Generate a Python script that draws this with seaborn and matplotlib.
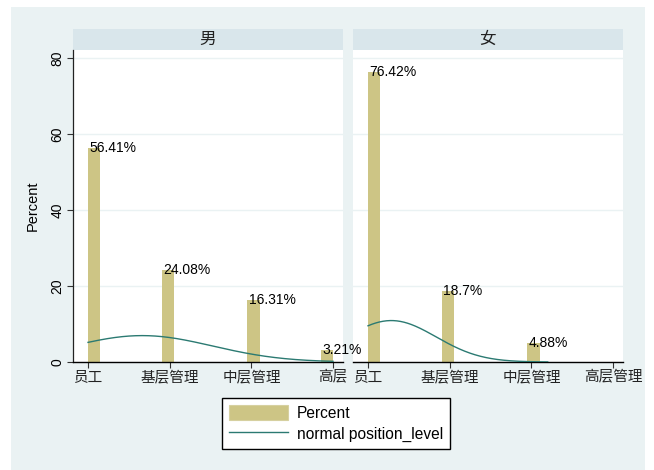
import numpy as np
import pandas as pd
import matplotlib
matplotlib.use('Agg')
import matplotlib.pyplot as plt
import seaborn as sns
from matplotlib.patches import Rectangle, Patch
from matplotlib.lines import Line2D

# ---------------- data ----------------
genders = ['男', '女']
levels = ['员工', '基层管理', '中层管理', '高层管理']
level_codes = [1, 2, 3, 4]
male_pct = [56.41, 24.08, 16.31, 3.21]
female_pct = [76.42, 18.7, 4.88, 0.0]
y_ticks = [0, 20, 40, 60, 80]
curve_end = [4.0, 3.2]
legend_labels = ['Percent', 'normal position_level']

# ---------------- style ----------------
BG = '#eaf2f3'
STRIP = '#d9e6eb'
BAR = '#cdc585'
LINE = '#2b7a72'
CJK = ['Noto Sans CJK SC', 'DejaVu Sans']
LAT = ['Liberation Sans', 'DejaVu Sans']

W, H = 654, 470
fig = plt.figure(figsize=(W / 100, H / 100), dpi=100, facecolor='white')
fig.add_artist(Rectangle((11 / W, 0), (645 - 11) / W, (H - 7) / H,
                         transform=fig.transFigure, facecolor=BG,
                         edgecolor='none', zorder=-10))

edges = np.linspace(1, 4, 21)
binw = edges[1] - edges[0]
panel_left = [73, 353]
panel_w = 270
all_pcts = [male_pct, female_pct]

for i, (g, pcts) in enumerate(zip(genders, all_pcts)):
    ax = fig.add_axes([panel_left[i] / W, (H - 362) / H, panel_w / W, 312 / H])
    ax.set_zorder(3 - i)
    ax.set_facecolor('white')
    ax.set_axisbelow(True)
    df = pd.DataFrame({'code': level_codes, 'pct': pcts})
    sns.histplot(data=df, x='code', weights='pct', bins=list(edges), ax=ax,
                 color=BAR, alpha=1, linewidth=0)
    for p in list(ax.patches):
        h = round(p.get_height(), 2)
        if h > 0:
            ax.text(p.get_x() + 0.02, h, f"{h:g}%", ha='left', va='center',
                    fontsize=10, fontfamily=LAT, color='black', zorder=5,
                    clip_on=False)
    codes = np.array(level_codes, dtype=float)
    w = np.array(pcts, dtype=float)
    mu = (codes * w).sum() / w.sum()
    sd = np.sqrt(((codes - mu) ** 2 * w).sum() / w.sum())
    xs = np.linspace(1, curve_end[i], 300)
    ys = 100 * binw * np.exp(-0.5 * ((xs - mu) / sd) ** 2) / (sd * np.sqrt(2 * np.pi))
    sns.lineplot(x=xs, y=ys, ax=ax, color=LINE, linewidth=1.0, zorder=4)

    ax.set_xlim(0.816, 4.122)
    ax.set_ylim(0, 82.1)
    ax.set_yticks(y_ticks)
    ax.yaxis.grid(True, color=BG, linewidth=1.0)
    ax.xaxis.grid(False)
    ax.set_xticks(level_codes)
    labs = list(levels)
    if i == 0:
        labs[-1] = labs[-1][:2]
    ax.set_xticklabels(labs, fontfamily=CJK, fontsize=10.5, color='#222222')
    ax.tick_params(axis='x', length=4, width=0.8, color='#333333', pad=2)
    for s in ['top', 'right']:
        ax.spines[s].set_visible(False)
    ax.spines['bottom'].set_color('black')
    ax.spines['bottom'].set_linewidth(1.0)
    ax.set_xlabel('')
    if i == 0:
        ax.spines['left'].set_color('#222222')
        ax.spines['left'].set_linewidth(0.9)
        ax.tick_params(axis='y', length=4, width=0.8, color='#333333', pad=2)
        for t in ax.get_yticklabels():
            t.set_rotation(90)
            t.set_va('center')
            t.set_fontfamily(LAT)
            t.set_fontsize(10)
        ax.set_ylabel('Percent', fontfamily=LAT, fontsize=10.5, labelpad=8)
    else:
        ax.spines['left'].set_visible(False)
        ax.tick_params(axis='y', left=False, labelleft=False)
        ax.set_ylabel('')

    sax = fig.add_axes([panel_left[i] / W, (H - 50) / H, panel_w / W, 21 / H])
    sax.set_facecolor(STRIP)
    sax.set_xticks([]); sax.set_yticks([])
    for s in sax.spines.values():
        s.set_visible(False)
    sax.text(0.5, 0.5, g, ha='center', va='center', fontfamily=CJK,
             fontsize=12, color='#222222', transform=sax.transAxes)

handles = [Patch(facecolor=BAR, edgecolor='#d6d0a0', linewidth=0.8),
           Line2D([0], [0], color=LINE, linewidth=1.0)]
leg = fig.legend(handles, legend_labels, loc='center',
                 bbox_to_anchor=(336 / W, (H - 423.5) / H),
                 prop={'family': LAT, 'size': 11.2}, frameon=True,
                 fancybox=False, edgecolor='black', framealpha=1,
                 handlelength=3.8, handleheight=1.1, handletextpad=0.6,
                 labelspacing=0.3, borderpad=0.45, borderaxespad=0)
leg.get_frame().set_linewidth(1.0)

fig.savefig('out.png', dpi=100, facecolor='white')
